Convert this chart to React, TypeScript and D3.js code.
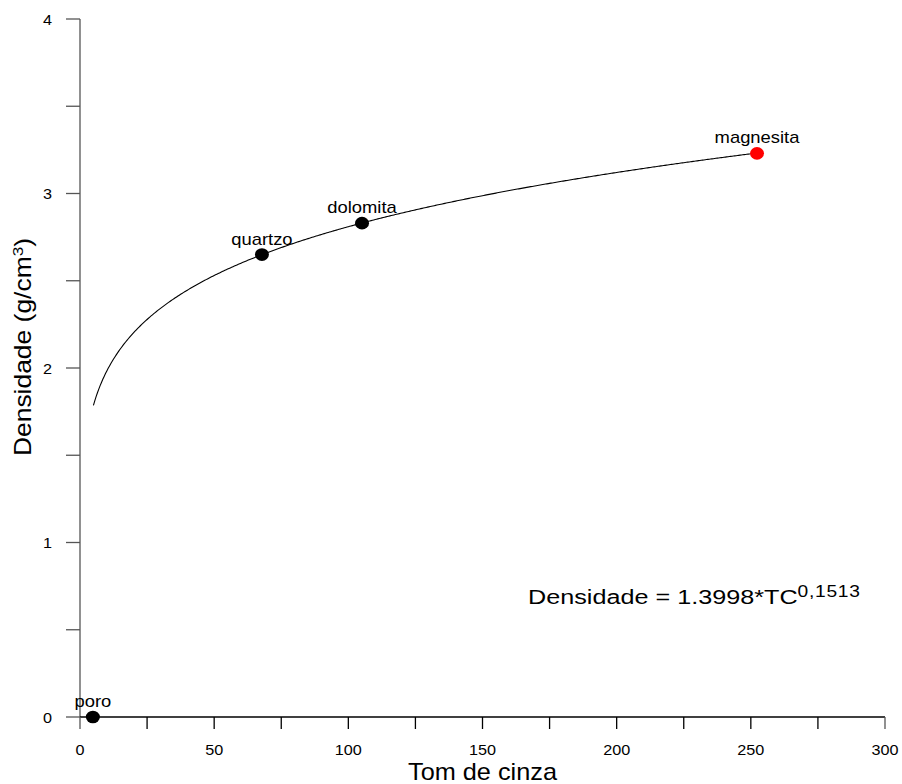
import React from "react";
import * as d3 from "d3";

const minerals = ["poro", "quartzo", "dolomita", "magnesita"];
const tomDeCinza = [4.8, 67.8, 105.1, 252.3];
const densidade = [0, 2.65, 2.83, 3.23];
const pointColors = ["#000000", "#000000", "#000000", "#ff0000"];
const xTicks = [0, 50, 100, 150, 200, 250, 300];
const xMinorTicks = [25, 75, 125, 175, 225, 275];
const yTicks = [0, 1, 2, 3, 4];
const yMinorTicks = [0.5, 1.5, 2.5, 3.5];
const fitCoef = 1.3998;
const fitExp = 0.1513;
const fitRange = [5, 252];

const SX = 1.15;

function T({ x, y, rotate = 0, anchor = "start", size, sx = SX, children }: any) {
  return (
    <text
      transform={`translate(${x},${y}) rotate(${rotate}) scale(${sx},1)`}
      textAnchor={anchor}
      fontSize={size}
      fill="#000"
    >
      {children}
    </text>
  );
}

export default function App() {
  const W = 902, H = 784;
  const x = d3.scaleLinear().domain([0, 300]).range([80, 885]);
  const y = d3.scaleLinear().domain([0, 4]).range([717, 19]);
  const fitX = d3.range(fitRange[0], fitRange[1] + 0.01, 0.5);
  const line = d3.line<number>().x((d) => x(d)).y((d) => y(fitCoef * Math.pow(d, fitExp)));
  const font = "Liberation Sans, Arial, sans-serif";
  return (
    <svg width={W} height={H} style={{ position: "absolute", left: 0, top: 0, background: "#fff" }} fontFamily={font}>
      {/* y axis */}
      <line x1={x(0)} x2={x(0)} y1={y(4)} y2={y(0)} stroke="#555" strokeWidth={1.3} />
      {[...yTicks, ...yMinorTicks].map((t) => (
        <line key={"yt" + t} x1={x(0) - 14} x2={x(0)} y1={y(t)} y2={y(t)} stroke="#555" strokeWidth={1.3} />
      ))}
      {yTicks.map((t) => (
        <T key={"yl" + t} x={52} y={y(t) + 5.5} anchor="end" size={15} sx={1.08}>{t}</T>
      ))}
      {/* x axis */}
      <line x1={x(0)} x2={x(300)} y1={y(0)} y2={y(0)} stroke="#000" strokeWidth={1.3} />
      {[...xTicks, ...xMinorTicks].map((t) => (
        <line key={"xt" + t} x1={x(t)} x2={x(t)} y1={y(0)} y2={y(0) + 12} stroke={t === 0 || t === 300 ? "#555" : "#000"} strokeWidth={1.3} />
      ))}
      {xTicks.map((t) => (
        <T key={"xl" + t} x={x(t)} y={755} anchor="middle" size={15} sx={1.08}>{t}</T>
      ))}
      <T x={x(150)} y={780} anchor="middle" size={23} sx={1.1}>Tom de cinza</T>
      <T x={31} y={347} rotate={-90} anchor="middle" size={23}>
        Densidade (g/cm<tspan dy={-8} fontSize={15}>3</tspan><tspan dy={8}>)</tspan>
      </T>
      {/* fit curve */}
      <path d={line(fitX) || ""} fill="none" stroke="#000" strokeWidth={1.1} />
      {/* points */}
      {minerals.map((m, i) => (
        <g key={m}>
          <ellipse cx={x(tomDeCinza[i])} cy={y(densidade[i])} rx={7} ry={6.3} fill={pointColors[i]} />
          <T x={x(tomDeCinza[i])} y={y(densidade[i]) - 10} anchor="middle" size={16}>{m}</T>
        </g>
      ))}
      <T x={528} y={604} size={21} sx={1.2}>
        Densidade = {fitCoef.toFixed(4)}*TC<tspan dy={-7} fontSize={16} letterSpacing={0.6}>0,1513</tspan>
      </T>
    </svg>
  );
}
